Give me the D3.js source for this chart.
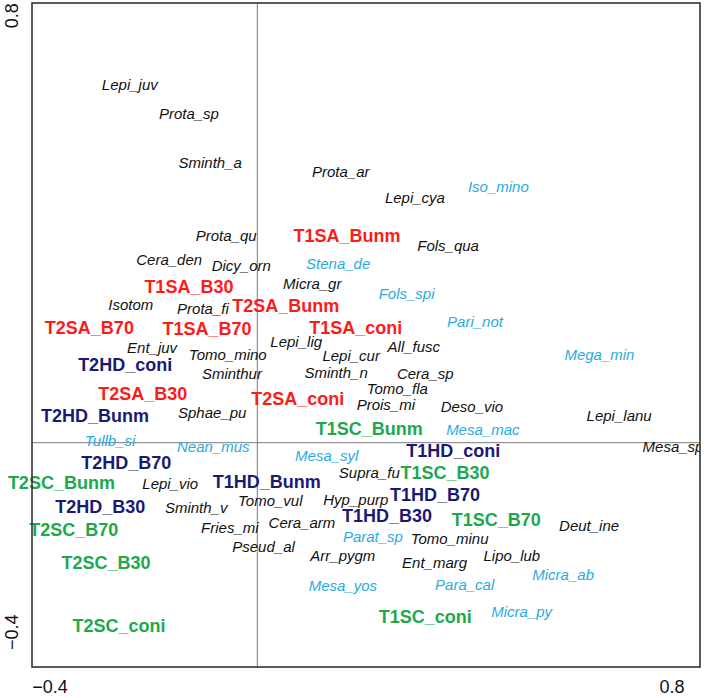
<!DOCTYPE html>
<html>
<head>
<meta charset="utf-8">
<script src="https://cdn.jsdelivr.net/npm/d3@7"></script>
<style>
  html, body { margin: 0; padding: 0; background: #fff; }
  svg { display: block; }
  text { font-family: "Liberation Sans", Arial, Helvetica, sans-serif; }
</style>
</head>
<body>
<svg id="chart" width="709" height="698"></svg>
<script>
// Axis tick labels
const xTicks = [-0.4, 0.8];
const yTicks = [-0.4, 0.8];

// Species (black) : name, axis 1, axis 2
const blackSpeciesNames = ["Lepi_juv","Prota_sp","Sminth_a","Prota_ar","Lepi_cya","Prota_qu","Fols_qua","Cera_den","Dicy_orn","Micra_gr","Isotom","Prota_fi","Ent_juv","Tomo_mino","Lepi_lig","Lepi_cur","All_fusc","Sminthur","Sminth_n","Cera_sp","Tomo_fla","Prois_mi","Deso_vio","Sphae_pu","Lepi_lanu","Mesa_sp","Supra_fu","Lepi_vio","Hyp_purp","Tomo_vul","Sminth_v","Fries_mi","Cera_arm","Deut_ine","Tomo_minu","Pseud_al","Arr_pygm","Lipo_lub","Ent_marg"];
const blackSpeciesX = [-0.246,-0.132,-0.091,0.161,0.304,-0.060,0.368,-0.170,-0.031,0.106,-0.244,-0.105,-0.203,-0.057,0.075,0.181,0.302,-0.049,0.152,0.324,0.270,0.248,0.414,-0.087,0.698,0.802,0.216,-0.168,0.190,0.025,-0.118,-0.053,0.086,0.640,0.371,0.012,0.165,0.491,0.342];
const blackSpeciesY = [0.692,0.635,0.540,0.523,0.474,0.400,0.381,0.353,0.342,0.308,0.266,0.258,0.183,0.171,0.196,0.169,0.185,0.133,0.135,0.133,0.104,0.073,0.069,0.058,0.052,-0.008,-0.058,-0.078,-0.109,-0.111,-0.126,-0.163,-0.155,-0.161,-0.186,-0.200,-0.217,-0.217,-0.232];

// Species (blue)
const blueSpeciesNames = ["Iso_mino","Stena_de","Fols_spi","Pari_not","Mega_min","Mesa_mac","Tullb_si","Nean_mus","Mesa_syl","Parat_sp","Micra_ab","Para_cal","Mesa_yos","Micra_py"];
const blueSpeciesX = [0.465,0.156,0.288,0.420,0.660,0.435,-0.284,-0.085,0.134,0.223,0.590,0.400,0.165,0.510];
const blueSpeciesY = [0.494,0.345,0.287,0.233,0.171,0.026,0.005,-0.008,-0.024,-0.182,-0.255,-0.273,-0.275,-0.327];

// Samples SA (red)
const saNames = ["T1SA_Bunm","T1SA_B30","T2SA_Bunm","T2SA_B70","T1SA_B70","T1SA_coni","T2SA_B30","T2SA_coni"];
const saX = [0.173,-0.132,0.055,-0.324,-0.097,0.190,-0.221,0.078];
const saY = [0.400,0.302,0.264,0.223,0.220,0.223,0.094,0.086];

// Samples HD (navy)
const hdNames = ["T2HD_coni","T2HD_Bunm","T2HD_B70","T1HD_Bunm","T2HD_B30","T1HD_coni","T1HD_B70","T1HD_B30"];
const hdX = [-0.255,-0.313,-0.253,0.018,-0.303,0.378,0.343,0.250];
const hdY = [0.150,0.052,-0.039,-0.074,-0.124,-0.016,-0.101,-0.141];

// Samples SC (green)
const scNames = ["T1SC_Bunm","T2SC_Bunm","T1SC_B30","T1SC_B70","T2SC_B70","T2SC_B30","T1SC_coni","T2SC_coni"];
const scX = [0.216,-0.378,0.362,0.461,-0.354,-0.292,0.324,-0.267];
const scY = [0.028,-0.076,-0.058,-0.149,-0.167,-0.232,-0.336,-0.352];

const svg = d3.select("#chart");
const pLeft = 32, pRight = 700, pTop = 3, pBottom = 667;
const x = d3.scaleLinear().domain([-0.4347, 0.854]).range([pLeft, pRight]);
const y = d3.scaleLinear().domain([-0.433, 0.8488]).range([pBottom, pTop]);

svg.append("defs").append("clipPath").attr("id", "plotclip")
  .append("rect").attr("x", pLeft).attr("y", pTop).attr("width", pRight - pLeft).attr("height", pBottom - pTop);

// crosshair lines at zero
svg.append("line").attr("x1", x(0)).attr("x2", x(0)).attr("y1", pTop).attr("y2", pBottom)
  .attr("stroke", "#7a7a7a").attr("stroke-width", 1);
svg.append("line").attr("x1", pLeft).attr("x2", pRight).attr("y1", y(0)).attr("y2", y(0))
  .attr("stroke", "#7a7a7a").attr("stroke-width", 1);

function zipRows(names, xs, ys) { return names.map((n, i) => ({name: n, x: xs[i], y: ys[i]})); }

function drawLabels(rows, color, bold, size, clip) {
  const g = svg.append("g");
  if (clip) g.attr("clip-path", "url(#plotclip)");
  g.selectAll("text").data(rows).enter().append("text")
    .attr("x", d => x(d.x))
    .attr("y", d => y(d.y))
    .attr("dy", "0.36em")
    .attr("text-anchor", "middle")
    .attr("font-size", size)
    .attr("font-style", bold ? "normal" : "italic")
    .attr("font-weight", bold ? "bold" : "normal")
    .attr("fill", color)
    .text(d => d.name);
}

drawLabels(zipRows(blackSpeciesNames, blackSpeciesX, blackSpeciesY), "#111111", false, 15, true);
drawLabels(zipRows(blueSpeciesNames, blueSpeciesX, blueSpeciesY), "#29abe2", false, 15, true);
drawLabels(zipRows(saNames, saX, saY), "#ff1a1a", true, 18, false);
drawLabels(zipRows(hdNames, hdX, hdY), "#1a1a75", true, 18, false);
drawLabels(zipRows(scNames, scX, scY), "#1ea84c", true, 18, false);

// frame
svg.append("rect").attr("x", pLeft).attr("y", pTop).attr("width", pRight - pLeft).attr("height", pBottom - pTop)
  .attr("fill", "none").attr("stroke", "#333").attr("stroke-width", 1.6);

// axis tick labels
const fmt = v => (v < 0 ? "\u2212" : "") + Math.abs(v).toFixed(1);
svg.append("g").selectAll("text").data(xTicks).enter().append("text")
  .attr("x", d => x(d)).attr("y", 693)
  .attr("text-anchor", "middle").attr("font-size", 18).attr("fill", "#111")
  .text(fmt);
svg.append("g").selectAll("text").data(yTicks).enter().append("text")
  .attr("transform", d => `translate(18,${y(d)}) rotate(-90)`)
  .attr("text-anchor", "start").attr("font-size", 18).attr("fill", "#111")
  .text(fmt);
</script>
</body>
</html>
